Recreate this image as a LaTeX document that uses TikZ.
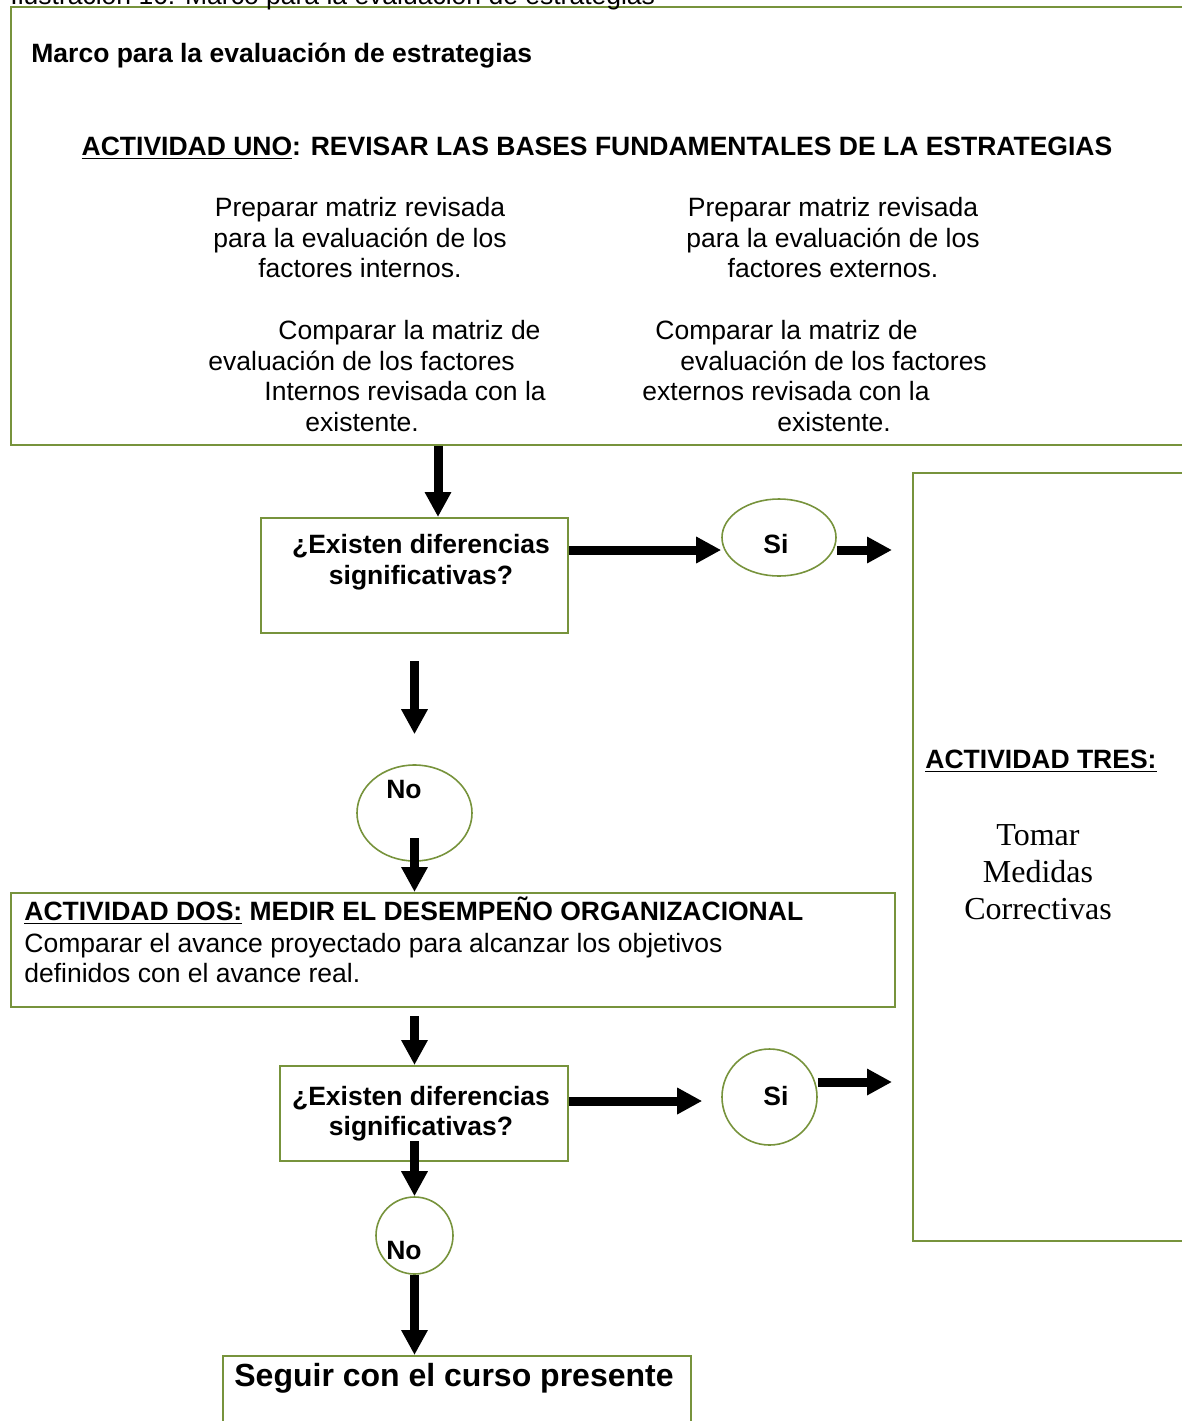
\documentclass[tikz,border=0pt]{standalone}
\usepackage{fontspec}
\setmainfont{Liberation Sans}
\newfontfamily\timesfont{Liberation Serif}
\usepackage{xcolor}
\usetikzlibrary{shapes.geometric, arrows.meta, positioning, calc}
\definecolor{boxgreen}{RGB}{119,147,60}
\newcommand{\bodysize}{\fontsize{13.25}{15.25}\selectfont}
\tikzstyle{frame} = [rectangle, draw=boxgreen, line width=1pt, inner sep=0pt]
\tikzstyle{oval} = [ellipse, draw=boxgreen, line width=0.8pt, inner sep=0pt]
\tikzstyle{txt} = [inner sep=0pt, font=\bodysize, align=center]
\tikzstyle{btxt} = [inner sep=0pt, font=\bodysize\bfseries, align=center]
\tikzstyle{arrow} = [line width=4.5pt, -{Triangle[length=12.5pt, width=12.5pt]}]

\begin{document}
\begin{tikzpicture}[x=0.5pt, y=-0.5pt]
\useasboundingbox (0,0) rectangle (1182,1421);
\clip (0,0) rectangle (1182,1421);

% Boxes
\node (uno) [frame, minimum width=594.5pt, minimum height=219pt] at (605.5,226) {};
\node (d1) [frame, minimum width=153.5pt, minimum height=57.5pt] at (414.5,575.5) {};
\node (si1) [oval, minimum width=57pt, minimum height=38.5pt] at (779,537.5) {};
\node (no1) [oval, minimum width=57.5pt, minimum height=48pt] at (414.5,813) {};
\node (dos) [frame, minimum width=442pt, minimum height=57pt] at (453,950) {};
\node (d2) [frame, minimum width=144pt, minimum height=47.5pt] at (424,1113.5) {};
\node (si2) [oval, minimum width=47.5pt, minimum height=48pt] at (769.5,1097) {};
\node (no2) [oval, minimum width=38.5pt, minimum height=38.5pt] at (414.5,1235.5) {};
\node (seguir) [frame, minimum width=234pt, minimum height=47pt] at (457,1403) {};
\node (tres) [frame, minimum width=143.5pt, minimum height=384pt] at (1056.5,857) {};

% Texts
\node (caption) [txt, anchor=base west] at (10,4) {Ilustración 16: Marco para la evaluación de estrategias};
\node (title) [btxt, anchor=base west] at (31,62) {Marco para la evaluación de estrategias};
\node (unohead) [btxt, anchor=base] at (597,155) {\underline{ACTIVIDAD UNO}: REVISAR LAS BASES FUNDAMENTALES DE LA ESTRATEGIAS};
\node (prepint) [txt, anchor=north] at (360,197) {Preparar matriz revisada\\para la evaluación de los\\factores internos.};
\node (prepext) [txt, anchor=north] at (833,197) {Preparar matriz revisada\\para la evaluación de los\\factores externos.};
\node (compint) [txt, anchor=north west, align=left] at (208,320) {\hspace*{35pt}Comparar la matriz de\\evaluación de los factores\\\hspace*{28pt}Internos revisada con la\\\hspace*{48.5pt}existente.};
\node (compext) [txt, anchor=north west, align=left] at (642,320) {\hspace*{6.5pt}Comparar la matriz de\\\hspace*{19pt}evaluación de los factores\\externos revisada con la\\\hspace*{67.5pt}existente.};
\node (d1text) [btxt, anchor=north] at (421,534) {¿Existen diferencias\\significativas?};
\node (si1text) [btxt] at (776,544) {Si};
\node (no1text) [btxt] at (404,789) {No};
\node (doshead) [btxt, anchor=base west] at (24,920) {\underline{ACTIVIDAD DOS:} MEDIR EL DESEMPEÑO ORGANIZACIONAL};
\node (dosbody) [txt, anchor=north west, align=left] at (24,932.5) {Comparar el avance proyectado para alcanzar los objetivos\\definidos con el avance real.};
\node (d2text) [btxt, anchor=north] at (421,1085.5) {¿Existen diferencias\\significativas?};
\node (si2text) [btxt] at (776,1096) {Si};
\node (no2text) [btxt] at (404,1250) {No};
\node (seguirtext) [inner sep=0pt, font=\fontsize{16}{18}\selectfont\bfseries, anchor=base] at (454,1386) {Seguir con el curso presente};
\node (treshead) [btxt, anchor=base] at (1041,768) {\underline{ACTIVIDAD TRES:}};
\node (trestext) [inner sep=0pt, font=\timesfont\fontsize{16}{18.5}\selectfont, align=center, anchor=north] at (1038,824) {Tomar\\Medidas\\Correctivas};

% Arrows
\coordinate (tip1) at ([xshift=11.75pt]d1.north);
\coordinate (row1) at ([yshift=12.75pt]d1.east);
\coordinate (row2) at (0,550);
\coordinate (row3) at ([yshift=6.25pt]d2.east);
\coordinate (row4) at (0,1082);
\draw [arrow] (uno.south -| tip1) -- (tip1);
\draw [arrow] (row1) -- (row1 -| si1.west);
\draw [arrow, shorten >=10pt] (si1.east |- row2) -- (tres.west |- row2);
\draw [arrow, shorten <=13.5pt, shorten >=15pt] (no1 |- d1.south) -- (no1.north);
\draw [arrow, shorten <=12.5pt] (no1.center) -- (no1 |- dos.north);
\draw [arrow, shorten <=4pt] (no1 |- dos.south) -- (no1 |- d2.north);
\draw [arrow, shorten >=9.5pt] (row3) -- (row3 -| si2.west);
\draw [arrow, shorten >=10pt] (si2.east |- row4) -- (tres.west |- row4);
\draw [arrow, shorten <=-10.5pt] (no2 |- d2.south) -- (no2.north);
\draw [arrow] (no2.south) -- (no2 |- seguir.north);

\end{tikzpicture}
\end{document}
